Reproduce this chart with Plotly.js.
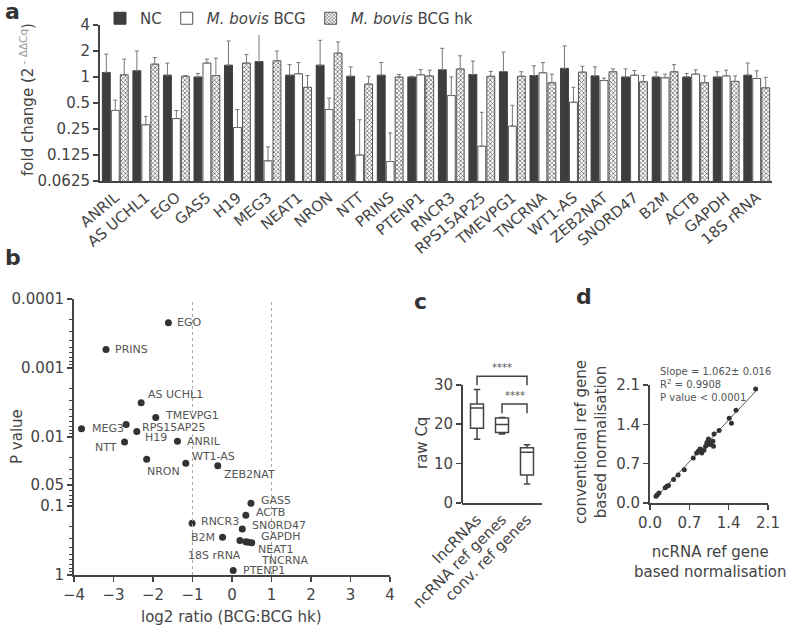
<!DOCTYPE html>
<html>
<head>
<meta charset="utf-8">
<script src="https://cdn.plot.ly/plotly-3.0.1.min.js"></script>
<style>
  body { margin: 0; background: white; }
  #plotDiv { width: 787px; height: 627px; }
</style>
</head>
<body>
<div id="plotDiv"></div>
<script>
// panel a - fold change per gene
let genes = ['ANRIL', 'AS UCHL1', 'EGO', 'GAS5', 'H19', 'MEG3', 'NEAT1', 'NRON', 'NTT', 'PRINS', 'PTENP1',
    'RNCR3', 'RPS15AP25', 'TMEVPG1', 'TNCRNA', 'WT1-AS', 'ZEB2NAT', 'SNORD47', 'B2M', 'ACTB', 'GAPDH', '18S rRNA'];
let ncMean = [1.13, 1.18, 1.05, 1.00, 1.37, 1.51, 1.05, 1.37, 1.02, 1.05, 1.00, 1.21, 1.07, 1.15, 1.04, 1.26, 1.03, 1.00, 1.00, 1.00, 1.00, 1.05];
let ncTop = [1.84, 2.00, 1.45, 1.10, 2.61, 3.20, 1.39, 2.66, 1.31, 1.47, 1.02, 2.15, 1.53, 1.94, 1.35, 2.29, 1.31, 1.24, 1.14, 1.10, 1.15, 1.45];
let bcgMean = [0.41, 0.28, 0.33, 1.45, 0.26, 0.107, 1.09, 0.42, 0.125, 0.105, 1.06, 0.61, 0.158, 0.27, 1.12, 0.51, 0.91, 1.05, 0.98, 1.08, 1.03, 0.96];
let bcgTop = [0.54, 0.35, 0.41, 1.61, 0.42, 0.155, 1.47, 0.57, 0.32, 0.225, 1.22, 1.00, 0.39, 0.47, 1.47, 0.76, 0.97, 1.19, 1.08, 1.21, 1.20, 1.18];
let hkMean = [1.06, 1.41, 1.02, 1.04, 1.45, 1.54, 0.76, 1.89, 0.83, 1.00, 1.03, 1.24, 1.02, 1.02, 0.86, 1.14, 1.15, 0.88, 1.15, 0.86, 0.89, 0.75];
let hkTop = [1.61, 1.68, 1.04, 1.65, 1.82, 2.00, 1.04, 2.55, 1.02, 1.07, 1.20, 1.76, 1.16, 1.15, 1.08, 1.33, 1.24, 1.04, 1.39, 1.03, 1.03, 0.99];
let foldTicks = [0.0625, 0.125, 0.25, 0.5, 1, 2, 4];

// panel b - volcano
let volcGenes = ['EGO', 'PRINS', 'AS UCHL1', 'TMEVPG1', 'MEG3', 'RPS15AP25', 'H19', 'NTT', 'ANRIL', 'WT1-AS', 'NRON',
    'ZEB2NAT', 'GAS5', 'ACTB', 'RNCR3', 'SNORD47', 'B2M', '18S rRNA', 'GAPDH', 'NEAT1', 'TNCRNA', 'PTENP1'];
let log2Ratio = [-1.61, -3.19, -2.30, -1.93, -3.81, -2.68, -2.41, -2.72, -1.38, -1.17, -2.16,
    -0.36, 0.48, 0.35, -1.01, 0.26, -0.24, 0.20, 0.35, 0.41, 0.50, 0.03];
let pValue = [0.00022, 0.00054, 0.0032, 0.0052, 0.0076, 0.0066, 0.0083, 0.0118, 0.0115, 0.024, 0.021,
    0.026, 0.091, 0.136, 0.178, 0.215, 0.284, 0.316, 0.33, 0.335, 0.34, 0.86];
let pTicks = [0.0001, 0.001, 0.01, 0.05, 0.1, 1];
let foldCut = [-1, 1];
let pCut = 0.05;

// panel c - raw Cq boxes
let cqGroups = ['lncRNAs', 'ncRNA ref genes', 'conv. ref genes'];
let cqMin = [16.2, 17.5, 4.8];
let cqQ1 = [19.0, 17.9, 7.1];
let cqMed = [24.1, 19.9, 12.9];
let cqQ3 = [25.1, 21.6, 14.0];
let cqMax = [28.8, 21.7, 14.8];
let sigFrom = [0, 1];
let sigTo = [2, 2];
let sigTop = [32.2, 25.1];
let sigLeg = [29.9, 22.8];
let sigText = ['****', '****'];

// panel d - normalisation comparison
let ncNorm = [0.107, 0.13, 0.16, 0.27, 0.30, 0.33, 0.42, 0.50, 0.61, 0.77, 0.83, 0.86, 0.89, 0.92, 0.96, 0.99,
    1.01, 1.03, 1.04, 1.06, 1.08, 1.12, 1.13, 1.14, 1.23, 1.41, 1.45, 1.53, 1.88];
let convNorm = [0.119, 0.148, 0.18, 0.27, 0.30, 0.31, 0.42, 0.50, 0.59, 0.80, 0.89, 0.92, 0.96, 0.89, 0.94, 1.01,
    1.07, 1.10, 1.14, 1.04, 1.07, 1.10, 1.01, 1.23, 1.29, 1.51, 1.42, 1.65, 2.03];
let fitSlope = 1.062;
let fitIntercept = -0.01;
let fitX = [0.09, 1.88];
let normTicks = [0, 0.7, 1.4, 2.1];

const FONT = 'DejaVu Sans';
const INK = '#444';

function px(x) { return x / 787; }
function py(y) { return 1 - y / 627; }

function axisBase(extra) {
    return Object.assign({
        showline: true, linecolor: INK, linewidth: 2,
        ticks: 'outside', ticklen: 5, tickwidth: 1.5, tickcolor: INK,
        showgrid: false, zeroline: false,
        tickfont: { family: FONT, size: 15, color: INK }
    }, extra);
}

let data = [];

// bars
data.push({
    type: 'bar', x: genes, y: ncMean, name: 'NC', xaxis: 'x', yaxis: 'y',
    marker: { color: '#3d3d3d', line: { color: '#3d3d3d', width: 1 } },
    error_y: { type: 'data', symmetric: false, array: ncTop.map((t, i) => t - ncMean[i]),
        arrayminus: ncMean.map(() => 0), color: '#777', thickness: 1, width: 2 }
});
data.push({
    type: 'bar', x: genes, y: bcgMean, name: '<i>M. bovis</i> BCG', xaxis: 'x', yaxis: 'y',
    marker: { color: 'white', line: { color: '#555', width: 1 } },
    error_y: { type: 'data', symmetric: false, array: bcgTop.map((t, i) => t - bcgMean[i]),
        arrayminus: bcgMean.map(() => 0), color: '#777', thickness: 1, width: 2 }
});
data.push({
    type: 'bar', x: genes, y: hkMean, name: '<i>M. bovis</i> BCG hk', xaxis: 'x', yaxis: 'y',
    marker: { color: 'white', line: { color: '#555', width: 1 },
        pattern: { shape: 'x', size: 3, solidity: 0.4, fgcolor: '#555', bgcolor: 'white' } },
    error_y: { type: 'data', symmetric: false, array: hkTop.map((t, i) => t - hkMean[i]),
        arrayminus: hkMean.map(() => 0), color: '#777', thickness: 1, width: 2 }
});

// volcano points
data.push({
    type: 'scatter', mode: 'markers', x: log2Ratio, y: pValue, xaxis: 'x2', yaxis: 'y2',
    showlegend: false, marker: { color: '#333', size: 7 }
});

// boxes
data.push({
    type: 'box', x: cqGroups, q1: cqQ1, median: cqMed, q3: cqQ3, lowerfence: cqMin, upperfence: cqMax,
    xaxis: 'x3', yaxis: 'y3', showlegend: false, boxpoints: false, width: 0.52,
    fillcolor: 'white', line: { color: INK, width: 1.5 }
});
// significance brackets
for (let i = 0; i < sigFrom.length; i++) {
    data.push({
        type: 'scatter', mode: 'lines', xaxis: 'x3', yaxis: 'y3', showlegend: false,
        x: [cqGroups[sigFrom[i]], cqGroups[sigFrom[i]], cqGroups[sigTo[i]], cqGroups[sigTo[i]]],
        y: [sigLeg[i], sigTop[i], sigTop[i], sigLeg[i]],
        line: { color: INK, width: 1.5 }
    });
}

// normalisation scatter + fit
data.push({
    type: 'scatter', mode: 'lines', x: fitX, y: fitX.map(x => fitSlope * x + fitIntercept),
    xaxis: 'x4', yaxis: 'y4', showlegend: false, line: { color: '#555', width: 1 }
});
data.push({
    type: 'scatter', mode: 'markers', x: ncNorm, y: convNorm, xaxis: 'x4', yaxis: 'y4',
    showlegend: false, marker: { color: '#333', size: 5 }
});

// volcano label placement [dx, dy(down), anchor]
let labelPos = {
    'EGO': [7, 0, 'left'], 'PRINS': [7, 0, 'left'], 'AS UCHL1': [5, -8, 'left'], 'TMEVPG1': [7, -2, 'left'],
    'MEG3': [8, 0, 'left'], 'RPS15AP25': [14, 3, 'left'], 'H19': [6, 6, 'left'], 'NTT': [-6, 6, 'right'],
    'ANRIL': [8, 0, 'left'], 'WT1-AS': [4, -7, 'left'], 'NRON': [-2, 12, 'left'], 'ZEB2NAT': [4, 9, 'left'],
    'GAS5': [8, -3, 'left'], 'ACTB': [8, -3, 'left'], 'RNCR3': [7, -2, 'left'], 'SNORD47': [8, -3, 'left'],
    'B2M': [-6, 0, 'right'], '18S rRNA': [3, 15, 'right'], 'GAPDH': [13, -5, 'left'], 'NEAT1': [8, 7, 'left'],
    'TNCRNA': [7, 18, 'left'], 'PTENP1': [8, 0, 'left']
};

let annotations = [];
volcGenes.forEach((g, i) => {
    let p = labelPos[g];
    annotations.push({
        xref: 'x2', yref: 'y2', x: log2Ratio[i], y: Math.log10(pValue[i]), text: g, showarrow: false,
        xanchor: p[2], yanchor: 'middle', xshift: p[0], yshift: -p[1],
        font: { family: FONT, size: 11, color: '#555' }
    });
});

for (let i = 0; i < sigText.length; i++) {
    annotations.push({
        xref: 'x3', yref: 'y3', x: (sigFrom[i] + sigTo[i]) / 2, y: sigTop[i], text: sigText[i],
        showarrow: false, yanchor: 'bottom', yshift: 1, font: { family: FONT, size: 10, color: '#555' }
    });
}

let txt = (x, y, text, size, extra) => Object.assign({
    xref: 'paper', yref: 'paper', x: px(x), y: py(y), text: text, showarrow: false,
    xanchor: 'center', yanchor: 'middle', font: { family: FONT, size: size, color: INK }
}, extra || {});

// panel letters
annotations.push(txt(3, 12, '<b>a</b>', 22, { xanchor: 'left', font: { family: FONT, size: 22, color: '#333' } }));
annotations.push(txt(3, 258, '<b>b</b>', 22, { xanchor: 'left', font: { family: FONT, size: 22, color: '#333' } }));
annotations.push(txt(412, 301, '<b>c</b>', 22, { xanchor: 'left', font: { family: FONT, size: 22, color: '#333' } }));
annotations.push(txt(574, 297, '<b>d</b>', 22, { xanchor: 'left', font: { family: FONT, size: 22, color: '#333' } }));

// axis titles
annotations.push(txt(27, 100, 'fold change (2<sup><span style="color:#999"> - ΔΔCq</span></sup>)', 15, { textangle: -90 }));
annotations.push(txt(17, 437, 'P value', 15, { textangle: -90 }));
annotations.push(txt(232, 617, 'log2 ratio (BCG:BCG hk)', 15));
annotations.push(txt(422, 443, 'raw Cq', 15, { textangle: -90 }));
annotations.push(txt(591, 442, 'conventional ref gene<br>based normalisation', 15, { textangle: -90 }));
annotations.push(txt(710, 562, 'ncRNA ref gene<br>based normalisation', 15));
annotations.push(txt(658, 384, 'Slope = 1.062± 0.016<br>R<sup>2</sup> = 0.9908<br>P value < 0.0001', 10,
    { xanchor: 'left', align: 'left', font: { family: FONT, size: 10, color: '#555' } }));

let shapes = [
    { type: 'line', xref: 'x domain', x0: 0, x1: 1, yref: 'y', y0: Math.log10(1), y1: Math.log10(1),
      line: { color: '#222', width: 1.5, dash: 'dot' } },
    { type: 'line', xref: 'x2 domain', x0: 0, x1: 1, yref: 'y2', y0: Math.log10(pCut), y1: Math.log10(pCut),
      line: { color: '#aaa', width: 1, dash: 'dot' } },
    { type: 'line', xref: 'x3 domain', x0: 0, x1: 0, yref: 'y3', y0: 0, y1: 30,
      line: { color: INK, width: 2 } }
].concat(foldCut.map(v => ({
    type: 'line', xref: 'x2', x0: v, x1: v, yref: 'y2 domain', y0: 0, y1: 1,
    line: { color: '#aaa', width: 1, dash: 'dot' }
})));

let layout = {
    width: 787, height: 627,
    margin: { l: 0, r: 0, t: 0, b: 0 },
    paper_bgcolor: 'white', plot_bgcolor: 'white',
    font: { family: FONT, color: INK },
    barmode: 'group', bargap: 0.12, bargroupgap: 0.12,
    showlegend: true,
    legend: { orientation: 'h', x: px(100), y: py(2), xanchor: 'left', yanchor: 'top',
        font: { family: FONT, size: 15, color: INK }, itemwidth: 30, tracegroupgap: 0 },
    xaxis: axisBase({ domain: [px(100), px(772)], anchor: 'y', type: 'category', ticks: '',
        tickangle: -40, tickfont: { family: FONT, size: 15, color: INK } }),
    yaxis: axisBase({ domain: [py(181), py(25)], anchor: 'x', type: 'log',
        range: [Math.log10(0.0625), Math.log10(4)], tickvals: foldTicks, ticktext: foldTicks.map(String) }),
    xaxis2: axisBase({ domain: [px(74), px(390)], anchor: 'y2', range: [-4, 4], tickvals: [-4, -3, -2, -1, 0, 1, 2, 3, 4] }),
    yaxis2: axisBase({ domain: [py(575), py(299)], anchor: 'x2', type: 'log', range: [0, -4],
        tickvals: pTicks, ticktext: pTicks.map(String),
        minor: { ticks: 'outside', ticklen: 3, tickcolor: INK, tickwidth: 1, dtick: 'D1' } }),
    xaxis3: axisBase({ domain: [px(462), px(542)], anchor: 'y3', type: 'category', range: [-0.6, 2.6],
        ticks: '', tickangle: -45 }),
    yaxis3: axisBase({ domain: [py(503), py(373)], anchor: 'x3', range: [0, 33], showline: false,
        tickvals: [0, 10, 20, 30] }),
    xaxis4: axisBase({ domain: [px(650), px(768)], anchor: 'y4', range: [0, 2.1],
        tickvals: normTicks, ticktext: normTicks.map(v => v.toFixed(1)) }),
    yaxis4: axisBase({ domain: [py(503), py(385)], anchor: 'x4', range: [0, 2.1],
        tickvals: normTicks, ticktext: normTicks.map(v => v.toFixed(1)) }),
    annotations: annotations,
    shapes: shapes
};

Plotly.newPlot('plotDiv', data, layout, { displayModeBar: false, staticPlot: true });
</script>
</body>
</html>
